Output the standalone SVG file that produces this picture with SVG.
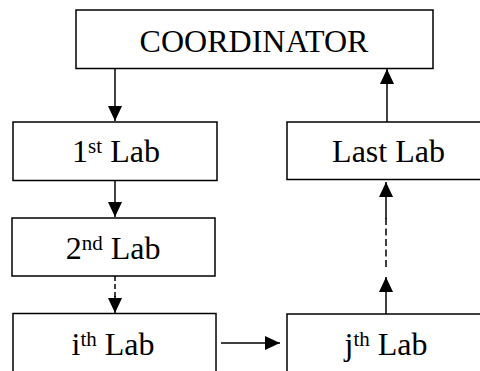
<svg xmlns="http://www.w3.org/2000/svg" width="480" height="371" viewBox="0 0 480 371">
<style>
.box{fill:#fff;stroke:#000;stroke-width:1.5}
.lbl{font-family:'Liberation Serif','Times New Roman','DejaVu Serif',serif;font-size:32px;fill:#000;text-anchor:middle}
.sup{font-size:21px}
.ln{stroke:#000;stroke-width:1.5;fill:none}
.dash{stroke-dasharray:5 3}
.dash2{stroke-dasharray:7 3.5}
</style>
<defs>
<marker id="ah" markerUnits="userSpaceOnUse" markerWidth="15" markerHeight="14" refX="15" refY="7" orient="auto" viewBox="0 0 15 14">
<path d="M0,0 L15,7 L0,14 z" fill="#000"/>
</marker>
</defs>
<rect width="480" height="371" fill="#fff"/>
<g id="connectors">
<line class="ln" x1="115" y1="69" x2="115" y2="121" marker-end="url(#ah)"/>
<line class="ln" x1="115" y1="181" x2="115" y2="217" marker-end="url(#ah)"/>
<line class="ln dash" x1="115" y1="276" x2="115" y2="298"/>
<line class="ln" x1="115" y1="296" x2="115" y2="313" marker-end="url(#ah)"/>
<line class="ln" x1="221" y1="343" x2="280" y2="343" marker-end="url(#ah)"/>
<line class="ln" x1="386" y1="314" x2="386" y2="277" marker-end="url(#ah)"/>
<line class="ln dash2" x1="386" y1="267" x2="386" y2="218"/>
<line class="ln" x1="386" y1="219" x2="386" y2="182" marker-end="url(#ah)"/>
<line class="ln" x1="387" y1="122" x2="387" y2="69" marker-end="url(#ah)"/>
</g>
<g id="coordinator">
<rect class="box" x="76" y="10" width="357" height="58.5"/>
<text class="lbl" font-family="Liberation Serif, serif" x="254" y="51.5">COORDINATOR</text>
</g>
<g id="lab1">
<rect class="box" x="13" y="122" width="204" height="58.5"/>
<text class="lbl" font-family="Liberation Serif, serif" x="116" y="162">1<tspan class="sup" dy="-9">st</tspan><tspan dy="9"> Lab</tspan></text>
</g>
<g id="lab2">
<rect class="box" x="12" y="218" width="203" height="58"/>
<text class="lbl" font-family="Liberation Serif, serif" x="113" y="259">2<tspan class="sup" dy="-9">nd</tspan><tspan dy="9"> Lab</tspan></text>
</g>
<g id="labi">
<rect class="box" x="13" y="313.5" width="203" height="70"/>
<text class="lbl" font-family="Liberation Serif, serif" x="113" y="355">i<tspan class="sup" dy="-9">th</tspan><tspan dy="9"> Lab</tspan></text>
</g>
<g id="labj">
<rect class="box" x="287" y="314" width="200" height="70"/>
<text class="lbl" font-family="Liberation Serif, serif" x="386" y="355">j<tspan class="sup" dy="-9">th</tspan><tspan dy="9"> Lab</tspan></text>
</g>
<g id="lablast">
<rect class="box" x="287" y="122" width="202" height="57.5"/>
<text class="lbl" font-family="Liberation Serif, serif" x="388.5" y="161.5">Last Lab</text>
</g>
</svg>
